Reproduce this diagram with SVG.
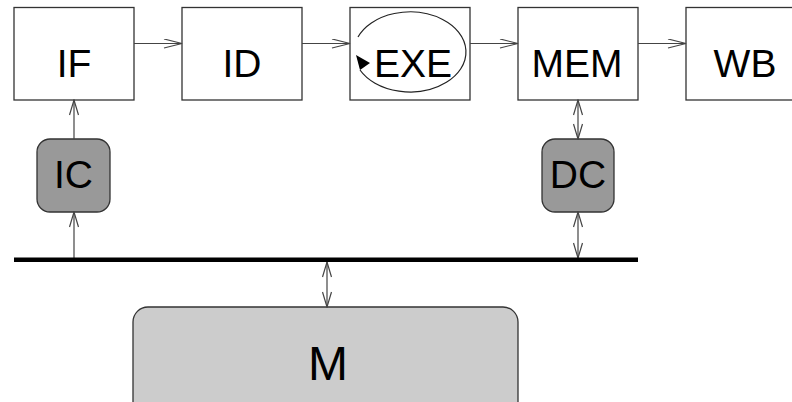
<svg xmlns="http://www.w3.org/2000/svg" width="792" height="402" viewBox="0 0 792 402">
  <defs>
    <style>
      .stage { fill: #ffffff; stroke: #333333; stroke-width: 1.3; }
      .cache { fill: #999999; stroke: #333333; stroke-width: 1.3; }
      .mem { fill: #cccccc; stroke: #333333; stroke-width: 1.3; }
      .lbl { font-family: "Liberation Sans", Arial, sans-serif; font-size: 39px; fill: #000000; text-anchor: middle; }
      .wire { fill: none; stroke: #444444; stroke-width: 1.2; }
      .bus { fill: none; stroke: #000000; stroke-width: 4.5; }
    </style>
    <marker id="open" viewBox="-1 -5 20 10" refX="18" refY="0" markerWidth="20" markerHeight="10" markerUnits="userSpaceOnUse" orient="auto-start-reverse">
      <path d="M0,-4.5 L18,0 L0,4.5" fill="none" stroke="#444444" stroke-width="1.2"/>
    </marker>
    <marker id="openv" viewBox="-1 -5 17 10" refX="15" refY="0" markerWidth="17" markerHeight="10" markerUnits="userSpaceOnUse" orient="auto-start-reverse">
      <path d="M0,-4.5 L15,0 L0,4.5" fill="none" stroke="#444444" stroke-width="1.2"/>
    </marker>
  </defs>

  <!-- pipeline stages -->
  <g id="IF">
    <rect class="stage" x="14" y="7.5" width="120" height="92.5"/>
    <text class="lbl" x="74" y="77">IF</text>
  </g>
  <g id="ID">
    <rect class="stage" x="182" y="7.5" width="120" height="92.5"/>
    <text class="lbl" x="242" y="77">ID</text>
  </g>
  <g id="EXE">
    <rect class="stage" x="350" y="7.5" width="120" height="92.5"/>
    <path d="M358,37 A56,40 0 1 1 360,70" fill="none" stroke="#222222" stroke-width="1.2"/>
    <polygon points="356,55 370,63 360,70" fill="#000000"/>
    <text class="lbl" x="413" y="77">EXE</text>
  </g>
  <g id="MEM">
    <rect class="stage" x="518" y="7.5" width="120" height="92.5"/>
    <text class="lbl" x="577" y="77">MEM</text>
  </g>
  <g id="WB">
    <rect class="stage" x="686" y="7.5" width="120" height="92.5"/>
    <text class="lbl" x="745" y="77">WB</text>
  </g>

  <!-- caches -->
  <g id="IC">
    <rect class="cache" x="37" y="139" width="73" height="73" rx="13"/>
    <text class="lbl" x="73.5" y="188">IC</text>
  </g>
  <g id="DC">
    <rect class="cache" x="542" y="139" width="72" height="73" rx="13"/>
    <text class="lbl" x="578" y="188">DC</text>
  </g>

  <!-- main memory -->
  <g id="M">
    <rect class="mem" x="133" y="307" width="385" height="112" rx="15"/>
    <text class="lbl" x="328" y="380" style="font-size:48px">M</text>
  </g>

  <!-- connectors -->
  <g id="connectors">
    <line class="wire" x1="134" y1="43.5" x2="182" y2="43.5" marker-end="url(#open)"/>
    <line class="wire" x1="302" y1="43.5" x2="350" y2="43.5" marker-end="url(#open)"/>
    <line class="wire" x1="470" y1="43.5" x2="518" y2="43.5" marker-end="url(#open)"/>
    <line class="wire" x1="638" y1="43.5" x2="686" y2="43.5" marker-end="url(#open)"/>

    <line class="wire" x1="74" y1="139" x2="74" y2="100" marker-end="url(#openv)"/>
    <line class="wire" x1="74" y1="258" x2="74" y2="212" marker-end="url(#openv)"/>

    <line class="wire" x1="578" y1="100" x2="578" y2="139" marker-start="url(#openv)" marker-end="url(#openv)"/>
    <line class="wire" x1="578" y1="212" x2="578" y2="258" marker-start="url(#openv)" marker-end="url(#openv)"/>

    <line class="wire" x1="327" y1="262" x2="327" y2="307" marker-start="url(#openv)" marker-end="url(#openv)"/>

    <line class="bus" x1="14" y1="259.8" x2="638" y2="259.8"/>
  </g>
</svg>
